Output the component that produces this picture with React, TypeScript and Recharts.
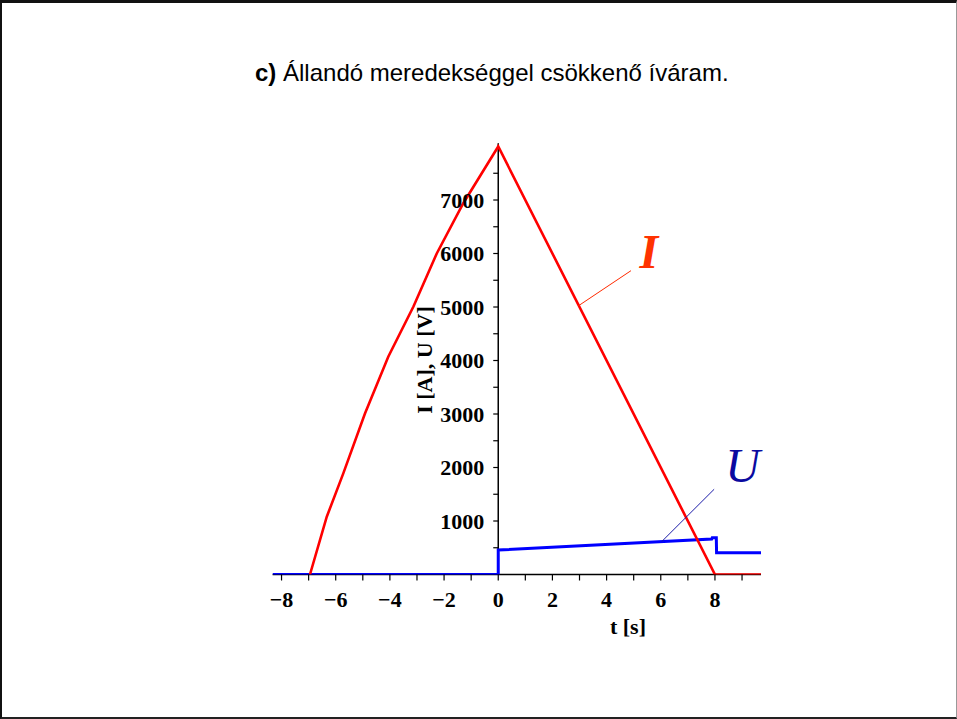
import React from 'react';
import { LineChart, Line, XAxis, YAxis, ReferenceLine, ReferenceDot } from 'recharts';

// Arc current I (A): rises along a concave curve, then falls at a constant rate to zero at t = 8 s
const I_TIME = [-6.95, -6.33, -5.72, -4.92, -4.06, -3.13, -2.27, -1.29, 0, 8, 9.7];
const I_VALUES = [0, 1080, 1890, 3010, 4070, 5010, 6000, 6940, 8000, 0, 0];

// Arc voltage U (V): switched on at t = 0, slowly rising, dropping after t = 8 s
const U_TIME = [-8.33, 0, 0, 7.88, 7.9, 8.05, 8.06, 9.7];
const U_VALUES = [0, 0, 458, 662, 685, 685, 408, 408];

const X_TICKS = [-8, -7, -6, -5, -4, -3, -2, -1, 0, 1, 2, 3, 4, 5, 6, 7, 8, 9];
const Y_TICKS = [500, 1000, 1500, 2000, 2500, 3000, 3500, 4000, 4500, 5000, 5500, 6000, 6500, 7000, 7500];

// callout leaders: [start on the curve, end near the letter], and where each letter sits
const I_LEADER = [{ x: 2.95, y: 5019 }, { x: 4.9, y: 5679 }];
const U_LEADER = [{ x: 6.03, y: 613 }, { x: 7.97, y: 1593 }];
const I_MARK = { t: 5.56, v: 5723 };
const U_MARK = { t: 9.02, v: 1729 };

const T_MIN = -8.33;
const T_MAX = 9.7;
const V_MAX = 8060;

const W = 957;
const H = 719;
const X_AXIS_H = 40;
const Y_AXIS_W = 1;
const PLOT_LEFT = 272.6;
const PLOT_RIGHT = 761;
const PLOT_TOP = 143.3;
const PLOT_BOTTOM = 574.5;
const MARGIN = {
  top: PLOT_TOP,
  right: W - PLOT_RIGHT,
  bottom: H - PLOT_BOTTOM - X_AXIS_H,
  left: PLOT_LEFT - Y_AXIS_W,
};
// the value axis is drawn through t = 0, not at the left edge
const Y_AXIS_X = PLOT_LEFT + ((0 - T_MIN) / (T_MAX - T_MIN)) * (PLOT_RIGHT - PLOT_LEFT);

const SERIF = '"Liberation Serif", "Times New Roman", serif';
const SANS = '"Liberation Sans", Arial, sans-serif';

const iData = I_TIME.map((t, i) => ({ t, v: I_VALUES[i] }));
const uData = U_TIME.map((t, i) => ({ t, v: U_VALUES[i] }));

const YTick = (props: any) => {
  const { y, payload } = props;
  const major = payload.value % 1000 === 0;
  return (
    <g>
      <line x1={Y_AXIS_X - 5} x2={Y_AXIS_X} y1={y} y2={y} stroke="#000" strokeWidth={1.2} />
      {major && (
        <text
          x={Y_AXIS_X - 14}
          y={y}
          dy="0.35em"
          textAnchor="end"
          fontFamily={SERIF}
          fontWeight="bold"
          fontSize={22}
          fill="#000"
        >
          {payload.value}
        </text>
      )}
    </g>
  );
};

const xLabel = (v: number) => (v % 2 === 0 ? (v < 0 ? `\u2212${-v}` : `${v}`) : '');

const LetterMark = (text: string, color: string, weight: string) => (props: any) => (
  <text
    x={props.cx}
    y={props.cy}
    textAnchor="middle"
    fontFamily={SERIF}
    fontStyle="italic"
    fontWeight={weight}
    fontSize={48}
    fill={color}
  >
    {text}
  </text>
);

export default function App() {
  return (
    <div
      style={{
        position: 'absolute',
        left: 0,
        top: 0,
        width: W,
        height: H,
        background: '#fff',
        boxSizing: 'border-box',
        borderTop: '3px solid #111',
        borderLeft: '2px solid #111',
        borderBottom: '2px solid #222',
        borderRight: '1px solid #999',
      }}
    >
      <div style={{ position: 'absolute', left: -2, top: -3 }}>
        <LineChart width={W} height={H} margin={MARGIN}>
          <XAxis
            dataKey="t"
            type="number"
            domain={[T_MIN, T_MAX]}
            ticks={X_TICKS}
            interval={0}
            allowDataOverflow
            height={X_AXIS_H}
            tickSize={6}
            tickMargin={11}
            tickFormatter={xLabel}
            axisLine={false}
            tickLine={{ stroke: '#000', strokeWidth: 1.2 }}
            tick={{ fill: '#000', fontSize: 22, fontWeight: 'bold', fontFamily: SERIF }}
          />
          <YAxis
            dataKey="v"
            type="number"
            domain={[0, V_MAX]}
            ticks={Y_TICKS}
            interval={0}
            allowDataOverflow
            width={Y_AXIS_W}
            axisLine={false}
            tickLine={false}
            tick={<YTick />}
          />
          {/* both axis lines go under the curves */}
          <ReferenceLine y={0} stroke="#000" strokeWidth={1.5} />
          <ReferenceLine x={0} stroke="#000" strokeWidth={1.5} />
          <Line
            data={uData}
            dataKey="v"
            type="linear"
            stroke="#0000ff"
            strokeWidth={3}
            dot={false}
            isAnimationActive={false}
          />
          <Line
            data={iData}
            dataKey="v"
            type="linear"
            stroke="#ff0000"
            strokeWidth={2.6}
            dot={false}
            isAnimationActive={false}
          />
          <ReferenceLine segment={I_LEADER} stroke="#ff2a00" strokeWidth={1} />
          <ReferenceLine segment={U_LEADER} stroke="#1a1aa8" strokeWidth={1} />
          <ReferenceDot x={I_MARK.t} y={I_MARK.v} r={0} shape={LetterMark('I', '#ff3300', 'bold')} />
          <ReferenceDot x={U_MARK.t} y={U_MARK.v} r={0} shape={LetterMark('U', '#0a0aa0', 'normal')} />
        </LineChart>
      </div>
      <svg
        width={W}
        height={H}
        style={{ position: 'absolute', left: -2, top: -3, pointerEvents: 'none' }}
      >
        <text x={255} y={81} fontFamily={SANS} fontSize={24} fill="#000">
          <tspan fontWeight="bold">c)</tspan> Állandó meredekséggel csökkenő íváram.
        </text>
        <text
          transform="translate(432,360) rotate(-90)"
          textAnchor="middle"
          fontFamily={SERIF}
          fontWeight="bold"
          fontSize={22}
          fill="#000"
        >
          I [A], U [V]
        </text>
        <text x={628} y={634} textAnchor="middle" fontFamily={SERIF} fontWeight="bold" fontSize={22} fill="#000">
          t [s]
        </text>
      </svg>
    </div>
  );
}
